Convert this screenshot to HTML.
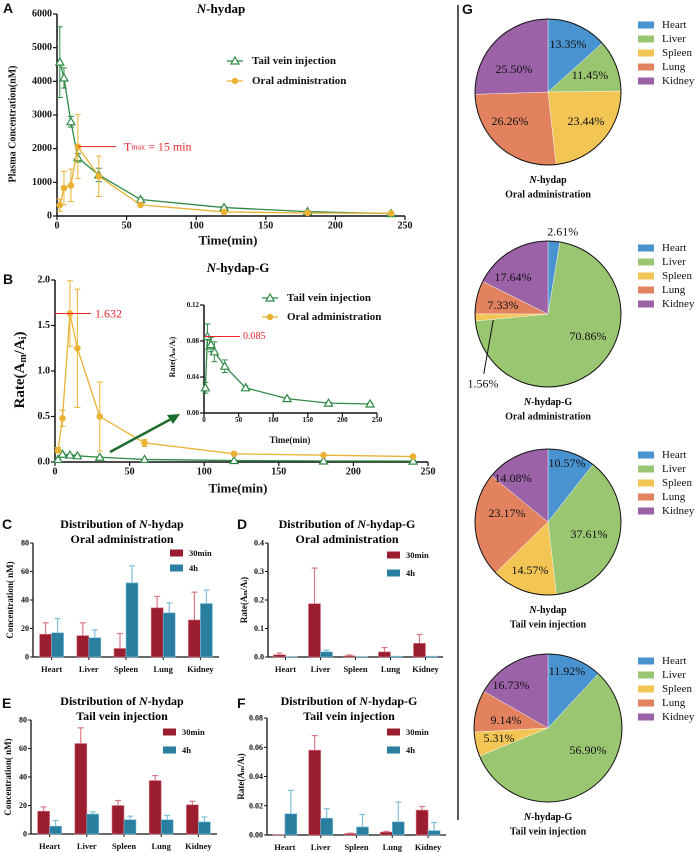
<!DOCTYPE html>
<html><head><meta charset="utf-8"><style>
html,body{margin:0;padding:0;background:#fff;}
svg{display:block;font-family:"Liberation Serif",serif;}
</style></head><body>
<svg id="fig" width="700" height="853" viewBox="0 0 700 853" xmlns="http://www.w3.org/2000/svg"></svg>
<script>
// ---------- data ----------
const timesA = [2,5,10,15,30,60,120,180,240];
const tailA = [4570,4100,2800,1730,1220,490,250,130,70];
const tailAErr = [1050,300,160,130,200,50,30,20,10];
const oralA = [320,830,910,2060,1180,330,120,90,80];
const oralAErr = [180,500,480,950,600,40,30,20,10];
const tailB = [0.028,0.085,0.076,0.068,0.052,0.028,0.016,0.011,0.010];
const tailBErr = [0.006,0.014,0.008,0.011,0.007,0.002,0.001,0.001,0.001];
const oralB = [0.13,0.48,1.632,1.25,0.5,0.21,0.09,0.075,0.06];
const oralBErr = [0.03,0.09,0.36,0.65,0.38,0.04,0.01,0.01,0.01];
const organs = ["Heart","Liver","Spleen","Lung","Kidney"];
const c30 = [16,15,6,34.5,26];   const c30Err = [8,9,10.5,8,19.5];
const c4h = [17,13.5,52,31,37.5]; const c4hErr = [10,5.5,12,7,9.5];
const d30 = [0.008,0.187,0.004,0.018,0.048]; const d30Err = [0.006,0.125,0.003,0.015,0.031];
const d4h = [0.001,0.018,0.001,0.003,0.003]; const d4hErr = [0,0.006,0,0,0];
const e30 = [16,63.5,20,37.5,20.5]; const e30Err = [3,11,3.5,3.5,2.5];
const e4h = [5.5,14,10,10,8.5]; const e4hErr = [4,1.5,2.5,3,3.5];
const f30 = [0.0003,0.058,0.001,0.002,0.017]; const f30Err = [0,0.010,0.0003,0.0005,0.0025];
const f4h = [0.0145,0.0115,0.0055,0.009,0.003]; const f4hErr = [0.016,0.0065,0.0085,0.0135,0.0055];
const pie1 = [13.35,11.45,23.44,26.26,25.50];
const pie2 = [2.61,70.86,1.56,7.33,17.64];
const pie3 = [10.57,37.61,14.57,23.17,14.08];
const pie4 = [11.92,56.90,5.31,9.14,16.73];
const ticksA = [0,1000,2000,3000,4000,5000,6000];
const ticksAx = [0,50,100,150,200,250];
const ticksB = [0,0.5,1.0,1.5,2.0];
const ticksInset = [0,0.04,0.08,0.12];

// ---------- helpers ----------
const NS="http://www.w3.org/2000/svg";
const svg=document.getElementById('fig');
function mk(tag,attrs,parent,txt){const e=document.createElementNS(NS,tag);for(const k in attrs)e.setAttribute(k,attrs[k]);if(txt!==undefined)e.textContent=txt;(parent||svg).appendChild(e);return e;}
function lin(d0,d1,r0,r1){return v=>r0+(v-d0)/(d1-d0)*(r1-r0);}
function txt(x,y,s,opt,parent){const t=mk('text',Object.assign({x:x,y:y,'font-size':11,'font-weight':'bold','text-anchor':'middle','dominant-baseline':'central',fill:'#111'},opt||{}),parent,s);return t;}
const GREEN="#2f8a45", ORAL="#e9b234", RED="#9a1e2f", BLUE="#2a7fa1", RED_L="#d77a86", BLUE_L="#7fbfd9";

// panel letters
[["A",3,8],["B",3,279],["C",2,524],["D",237,524],["E",2,703],["F",237,703],["G",462,9]].forEach(p=>{
  const t=txt(p[1],p[2],p[0],{'text-anchor':'start','font-size':14,'font-weight':'bold','font-family':'Liberation Sans, sans-serif'});
  
  
});

// ---------- line chart helper ----------
function lineChart(g,o){
  const X=lin(0,o.xmax,o.x0,o.x1), Y=lin(0,o.ymax,o.y0,o.y1);
  mk('line',{x1:o.x0,y1:o.y0,x2:o.x0,y2:o.y1,stroke:'#111','stroke-width':1.5},g);
  mk('line',{x1:o.x0,y1:o.y0,x2:o.x1,y2:o.y0,stroke:'#111','stroke-width':1.5},g);
  o.yt.forEach(v=>{mk('line',{x1:o.x0-4,x2:o.x0,y1:Y(v),y2:Y(v),stroke:'#111','stroke-width':1.2},g);
    txt(o.x0-5,Y(v),o.yfmt(v),{'text-anchor':'end','font-size':o.fs},g);});
  o.xt.forEach(v=>{mk('line',{x1:X(v),x2:X(v),y1:o.y0,y2:o.y0+4,stroke:'#111','stroke-width':1.2},g);
    txt(X(v),o.y0+o.fs*1.0,String(v),{'font-size':o.fs},g);});
  o.series.forEach(s=>{
    const sg=mk('g',{},g);
    
    
    mk('polyline',{points:timesA.map((t,i)=>X(t)+','+Y(s.v[i])).join(' '),fill:'none',stroke:s.c,'stroke-width':1.3},sg);
    timesA.forEach((t,i)=>{
      const x=X(t), hi=Y(Math.min(s.v[i]+s.e[i],o.ymax*1.05)), lo=Y(Math.max(s.v[i]-s.e[i],0));
      mk('line',{x1:x,x2:x,y1:hi,y2:lo,stroke:s.c,'stroke-width':1},sg);
      mk('line',{x1:x-3,x2:x+3,y1:hi,y2:hi,stroke:s.c,'stroke-width':1},sg);
      mk('line',{x1:x-3,x2:x+3,y1:lo,y2:lo,stroke:s.c,'stroke-width':1},sg);
      const y=Y(s.v[i]);
      if(s.m==='tri') mk('polygon',{points:`${x},${y-4} ${x-4},${y+3} ${x+4},${y+3}`,fill:'#fff',stroke:s.c,'stroke-width':1.2},sg);
      else mk('circle',{cx:x,cy:y,r:3.3,fill:s.c},sg);
    });
  });
  return {X,Y};
}
function legendLine(g,x,y,c,m,label,fs){
  mk('line',{x1:x,x2:x+16,y1:y,y2:y,stroke:c,'stroke-width':1.3},g);
  if(m==='tri') mk('polygon',{points:`${x+8},${y-4} ${x+4},${y+3} ${x+12},${y+3}`,fill:'#fff',stroke:c,'stroke-width':1.2},g);
  else mk('circle',{cx:x+8,cy:y,r:3.2,fill:c},g);
  txt(x+25,y,label,{'text-anchor':'start','font-size':fs},g);
}

// ---------- Panel A ----------
const gA=mk('g',{});  
const tA=mk('text',{x:221,y:8,'font-size':13,'font-weight':'bold','text-anchor':'middle','dominant-baseline':'central'},gA);
mk('tspan',{'font-style':'italic'},tA,'N'); mk('tspan',{},tA,'-hydap');
const A=lineChart(gA,{x0:57,x1:405,y0:216,y1:14,xmax:250,ymax:6000,yt:ticksA,xt:ticksAx,yfmt:v=>String(v),fs:10,
  series:[{name:'series-tail-vein-a',v:tailA,e:tailAErr,c:GREEN,m:'tri'},{name:'series-oral-a',v:oralA,e:oralAErr,c:ORAL,m:'dot'}]});
txt(13,124,'Plasma Concentration(nM)',{'font-size':10,transform:'rotate(-90 13 124)'},gA);
txt(228,240,'Time(min)',{'font-size':13},gA);
legendLine(gA,227,61,GREEN,'tri','Tail vein injection',11);
legendLine(gA,227,81,ORAL,'dot','Oral administration',11);
mk('line',{x1:A.X(15),x2:116,y1:A.Y(2060),y2:A.Y(2060),stroke:'#e8262b','stroke-width':1},gA);
const tm=mk('text',{x:124,y:A.Y(2060),'font-size':12,fill:'#e8262b','dominant-baseline':'central'},gA);
mk('tspan',{},tm,'T'); mk('tspan',{'font-size':8},tm,'max'); mk('tspan',{},tm,' = 15 min');

// ---------- Panel B ----------
const gB=mk('g',{});  
const tB=mk('text',{x:238,y:267,'font-size':13,'font-weight':'bold','text-anchor':'middle','dominant-baseline':'central'},gB);
mk('tspan',{'font-style':'italic'},tB,'N'); mk('tspan',{},tB,'-hydap-G');
const B=lineChart(gB,{x0:55,x1:428,y0:462,y1:280,xmax:250,ymax:2.0,yt:ticksB,xt:ticksAx,yfmt:v=>v.toFixed(1),fs:10,
  series:[{name:'series-tail-vein-b',v:tailB,e:tailBErr,c:GREEN,m:'tri'},{name:'series-oral-b',v:oralB,e:oralBErr,c:ORAL,m:'dot'}]});
const yl=txt(20,370,'',{'font-size':15,transform:'rotate(-90 20 370)'},gB);
mk('tspan',{},yl,'Rate(A'); mk('tspan',{'font-size':10,dy:3},yl,'m'); mk('tspan',{dy:-3},yl,'/A'); mk('tspan',{'font-size':10,dy:3},yl,'i'); mk('tspan',{dy:-3},yl,')');
txt(238,488,'Time(min)',{'font-size':13},gB);
legendLine(gB,262,298,GREEN,'tri','Tail vein injection',11);
legendLine(gB,262,317,ORAL,'dot','Oral administration',11);
mk('line',{x1:55,x2:91,y1:B.Y(1.632),y2:B.Y(1.632),stroke:'#e8262b','stroke-width':1},gB);
txt(95,B.Y(1.632),'1.632',{'text-anchor':'start','font-size':12,'font-weight':'normal',fill:'#e8262b'},gB);
// inset
const gI=mk('g',{},gB);  
const I=lineChart(gI,{x0:204,x1:377,y0:413,y1:305,xmax:250,ymax:0.12,yt:ticksInset,xt:ticksAx,yfmt:v=>v.toFixed(2),fs:7,
  series:[{name:'series-tail-vein-inset',v:tailB,e:tailBErr,c:GREEN,m:'tri'}]});
const il=txt(172,357,'',{'font-size':8,transform:'rotate(-90 172 357)'},gI);
mk('tspan',{},il,'Rate(A'); mk('tspan',{'font-size':5,dy:2},il,'m'); mk('tspan',{dy:-2},il,'/A'); mk('tspan',{'font-size':5,dy:2},il,'i'); mk('tspan',{dy:-2},il,')');
txt(290,440,'Time(min)',{'font-size':9},gI);
mk('line',{x1:204,x2:240,y1:I.Y(0.085),y2:I.Y(0.085),stroke:'#e8262b','stroke-width':1},gI);
txt(243,I.Y(0.085),'0.085',{'text-anchor':'start','font-size':10,'font-weight':'normal',fill:'#e8262b'},gI);
const ar=mk('g',{},gB);  
mk('line',{x1:110,y1:452,x2:173,y2:418,stroke:'#1e6b2e','stroke-width':2.5},ar);
mk('polygon',{points:'180,414 167,415 173,424',fill:'#1e6b2e'},ar);

// ---------- bar charts ----------
function barChart(name,o){
  const g=mk('g',{});  
  const Y=lin(0,o.ymax,o.y0,o.y1);
  o.title.forEach((ln,i)=>{const t=mk('text',{x:o.tx,y:o.ty+i*15,'font-size':12,'font-weight':'bold','text-anchor':'middle','dominant-baseline':'central'},g);
    ln.forEach(p=>mk('tspan',p[1]?{'font-style':'italic'}:{},t,p[0]));});
  mk('line',{x1:o.x0,y1:o.y0,x2:o.x0,y2:o.y1,stroke:'#111','stroke-width':1.3},g);
  mk('line',{x1:o.x0,y1:o.y0,x2:o.x1,y2:o.y0,stroke:'#111','stroke-width':1.3},g);
  o.yt.forEach(v=>{mk('line',{x1:o.x0-3,x2:o.x0,y1:Y(v),y2:Y(v),stroke:'#111','stroke-width':1},g);
    txt(o.x0-4,Y(v),o.fmt(v),{'text-anchor':'end','font-size':8},g);});
  const step=(o.x1-o.x0)/organs.length;
  organs.forEach((nm,i)=>{
    const cx=o.x0+step*(i+0.5);
    mk('line',{x1:cx,x2:cx,y1:o.y0,y2:o.y0+3,stroke:'#111','stroke-width':1},g);
    txt(cx,o.y0+12,nm,{'font-size':8.5},g);
    [[o.a,o.ae,RED,RED_L,-1],[o.b,o.be,BLUE,BLUE_L,0]].forEach(s=>{
      const bx=cx+s[4]*o.bw, top=Y(s[0][i]), et=Y(s[0][i]+s[1][i]);
      const r=mk('rect',{x:bx,y:top,width:o.bw,height:o.y0-top,fill:s[2],stroke:s[3],'stroke-width':0.6},g);
      
      
      if(s[1][i]>0){mk('line',{x1:bx+o.bw/2,x2:bx+o.bw/2,y1:top,y2:et,stroke:s[3],'stroke-width':1.2},g);
        mk('line',{x1:bx+o.bw/2-3,x2:bx+o.bw/2+3,y1:et,y2:et,stroke:s[3],'stroke-width':1.2},g);}
    });
  });
  [[RED,'30min',0],[BLUE,'4h',1]].forEach(l=>{
    const y=o.ly+l[2]*o.lstep;
    mk('rect',{x:o.lx,y:y-3.5,width:13,height:7,fill:l[0]},g);
    txt(o.lx+19,y,l[1],{'text-anchor':'start','font-size':8.5},g);
  });
  const yl=txt(o.ylx,(o.y0+o.y1)/2,'',{'font-size':9,transform:`rotate(-90 ${o.ylx} ${(o.y0+o.y1)/2})`},g);
  o.ylab.forEach(p=>mk('tspan',p[1]?{'font-size':6,dy:p[1]}:{dy:p[2]||0},yl,p[0]));
}
const fmt0=v=>String(v), fmt1=v=>v.toFixed(1), fmt2=v=>v.toFixed(2);
const concLab=[['Concentration( nM)']];
const rateLab=[['Rate(A'],['m',2],['/A',0,-2],['i',2],[')',0,-2]];
barChart('panel-c-bar-chart',{x0:33,x1:219,y0:657,y1:543,ymax:80,yt:[0,20,40,60,80],fmt:fmt0,a:c30,ae:c30Err,b:c4h,be:c4hErr,bw:12,
  title:[[['Distribution of '],['N',1],['-hydap']],[['Oral administration']]],tx:122,ty:524,lx:170,ly:553,lstep:15,ylx:10,ylab:concLab});
barChart('panel-d-bar-chart',{x0:268,x1:443,y0:657,y1:543,ymax:0.4,yt:[0,0.1,0.2,0.3,0.4],fmt:fmt1,a:d30,ae:d30Err,b:d4h,be:d4hErr,bw:12,
  title:[[['Distribution of '],['N',1],['-hydap-G']],[['Oral administration']]],tx:347,ty:524,lx:387,ly:555,lstep:18,ylx:244,ylab:rateLab});
barChart('panel-e-bar-chart',{x0:31,x1:217,y0:834,y1:720,ymax:80,yt:[0,20,40,60,80],fmt:fmt0,a:e30,ae:e30Err,b:e4h,be:e4hErr,bw:12,
  title:[[['Distribution of '],['N',1],['-hydap']],[['Tail vein injection']]],tx:122,ty:701,lx:163,ly:732,lstep:18,ylx:8,ylab:concLab});
barChart('panel-f-bar-chart',{x0:267,x1:446,y0:835,y1:718,ymax:0.08,yt:[0,0.02,0.04,0.06,0.08],fmt:fmt2,a:f30,ae:f30Err,b:f4h,be:f4hErr,bw:12,
  title:[[['Distribution of '],['N',1],['-hydap-G']],[['Tail vein injection']]],tx:349,ty:701,lx:387,ly:732,lstep:18,ylx:241,ylab:rateLab});

// ---------- divider ----------
const dv=mk('line',{x1:458,x2:458,y1:5,y2:820,stroke:'#222','stroke-width':1.5});  

// ---------- pies ----------
const pieCols=["#4a93d1","#9ac571","#f3c555","#e2825f","#9c62a8"];
function pie(name,vals,cx,cy,r,ly,cap,labelPos){
  const g=mk('g',{});  
  const tot=vals.reduce((a,b)=>a+b,0); let a0=-Math.PI/2;
  vals.forEach((v,i)=>{
    const a1=a0+v/tot*2*Math.PI, large=(a1-a0)>Math.PI?1:0;
    const p=mk('path',{d:`M${cx},${cy} L${cx+r*Math.cos(a0)},${cy+r*Math.sin(a0)} A${r},${r} 0 ${large} 1 ${cx+r*Math.cos(a1)},${cy+r*Math.sin(a1)} Z`,fill:pieCols[i],stroke:'#fff','stroke-width':0.4},g);
    
    
    const am=(a0+a1)/2, lp=labelPos[i];
    let lx,ly2;
    if(lp==='out-top'){lx=cx+(r+10)*Math.cos(am)+8;ly2=cy+(r+10)*Math.sin(am);}
    else if(lp==='out-bl'){lx=cx-r+8;ly2=cy+r*0.95;
      mk('line',{x1:cx-r*0.75,y1:cy+6,x2:cx-r*0.88,y2:cy+r*0.82,stroke:'#111','stroke-width':1},g);}
    else if(Array.isArray(lp)){lx=cx+lp[0];ly2=cy+lp[1];}
    else {const f=lp||0.6;lx=cx+r*f*Math.cos(am);ly2=cy+r*f*Math.sin(am);}
    txt(lx,ly2,v.toFixed(2)+'%',{'font-size':12,'font-weight':'normal'},g);
    a0=a1;
  });
  mk('circle',{cx:cx,cy:cy,r:r,fill:'none',stroke:'#111','stroke-width':1},g);
  organs.forEach((o,i)=>{
    mk('rect',{x:638,y:ly+i*14-3.5,width:16,height:7,fill:pieCols[i]},g);
    txt(662,ly+i*14,o,{'text-anchor':'start','font-size':11,'font-weight':'normal'},g);
  });
  const c1=mk('text',{x:cx,y:cy+r+15,'font-size':10,'font-weight':'bold','text-anchor':'middle','dominant-baseline':'central'},g);
  mk('tspan',{'font-style':'italic'},c1,'N'); mk('tspan',{},c1,cap[0]);
  txt(cx,cy+r+30,cap[1],{'font-size':10},g);
}
pie('pie-nhydap-oral',pie1,548,92,73,25,['-hydap','Oral administration'],[[20,-48],[42,-17],[38,29],[-38,29],[-34,-23]]);
pie('pie-nhydap-g-oral',pie2,548,314,73,248,['-hydap-G','Oral administration'],['out-top',[40,22],'out-bl',[-45,-9],[-35,-37]]);
pie('pie-nhydap-tail',pie3,548,522,73,455,['-hydap','Tail vein injection'],[[19,-59],[41,12],[-18,48],[-41,-9],[-35,-44]]);
pie('pie-nhydap-g-tail',pie4,548,728,74,661,['-hydap-G','Tail vein injection'],[[19,-57],[40,22],[-49,10],[-42,-8],[-37,-43]]);
</script>
</body></html>
